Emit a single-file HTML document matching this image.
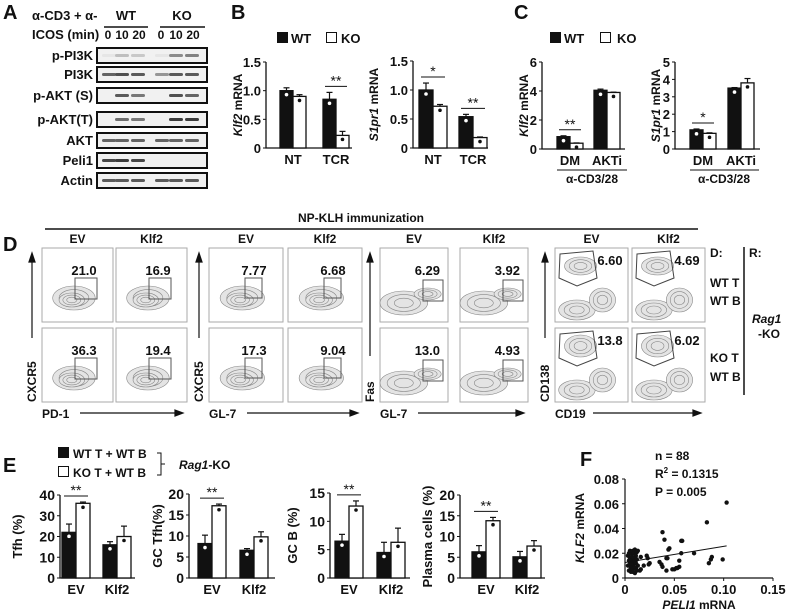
<!DOCTYPE html>
<html><head><meta charset="utf-8"><style>
html,body{margin:0;padding:0;background:#fff;}
svg{display:block;font-family:"Liberation Sans",sans-serif;font-weight:bold;}
text{fill:#111;}
</style></head><body>
<svg id="fig" width="786" height="611" viewBox="0 0 786 611">
<text x="3" y="19" font-size="20">A</text>
<text x="231" y="19" font-size="20">B</text>
<text x="514" y="19" font-size="20">C</text>
<text x="3" y="251" font-size="20">D</text>
<text x="3" y="472" font-size="20">E</text>
<text x="580" y="466" font-size="20">F</text>

<g font-size="13">
<text x="32" y="20">α-CD3 + α-</text>
<text x="32" y="39">ICOS (min)</text>
<text x="126" y="20" text-anchor="middle">WT</text>
<text x="182" y="20" text-anchor="middle">KO</text>
<line x1="104" y1="27" x2="148" y2="27" stroke="#111" stroke-width="1.5"/>
<line x1="160" y1="27" x2="205" y2="27" stroke="#111" stroke-width="1.5"/>
<g font-size="12">
<text x="108" y="39" text-anchor="middle">0</text>
<text x="122" y="39" text-anchor="middle">10</text>
<text x="139" y="39" text-anchor="middle">20</text>
<text x="161" y="39" text-anchor="middle">0</text>
<text x="176" y="39" text-anchor="middle">10</text>
<text x="193" y="39" text-anchor="middle">20</text>
</g>
</g>
<g id="blots"></g>

<rect x="277" y="32" width="11" height="11" fill="#111"/>
<text x="291" y="43" font-size="13">WT</text>
<rect x="326.5" y="32.5" width="10" height="10" fill="#fff" stroke="#111"/>
<text x="341" y="43" font-size="13">KO</text>
<rect x="550" y="32" width="11" height="11" fill="#111"/>
<text x="564" y="43" font-size="13">WT</text>
<rect x="600.5" y="32.5" width="10" height="10" fill="#fff" stroke="#111"/>
<text x="617" y="43" font-size="13">KO</text>
<g font-size="12">
<line x1="557" y1="170" x2="627" y2="170" stroke="#111"/>
<text x="592" y="183" text-anchor="middle">α-CD3/28</text>
<line x1="690" y1="170" x2="759" y2="170" stroke="#111"/>
<text x="724" y="183" text-anchor="middle">α-CD3/28</text>
</g>

<text x="361" y="222" font-size="12" text-anchor="middle">NP-KLH immunization</text>
<line x1="45" y1="229" x2="698" y2="229" stroke="#111" stroke-width="1.5"/>
<g id="flow"></g>
<g font-size="12">
<text x="710" y="257">D:</text>
<text x="749" y="257">R:</text>
<line x1="744" y1="247" x2="744" y2="395" stroke="#111" stroke-width="1.5"/>
<text x="710" y="287">WT T</text>
<text x="710" y="305">WT B</text>
<text x="752" y="323" font-style="italic">Rag1</text>
<text x="758" y="338">-KO</text>
<text x="710" y="362">KO T</text>
<text x="710" y="381">WT B</text>
</g>

<g font-size="12">
<rect x="58" y="447" width="11" height="11" fill="#111"/>
<text x="73" y="458">WT T + WT B</text>
<rect x="58.5" y="466.5" width="10" height="10" fill="#fff" stroke="#111"/>
<text x="73" y="477">KO T + WT B</text>
<path d="M157,453 h4 v22 h-4 M161,464 h4" fill="none" stroke="#111"/>
<text x="179" y="469"><tspan font-style="italic">Rag1</tspan>-KO</text>
</g>

<g font-size="12">
<text x="655" y="460">n = 88</text>
<text x="655" y="478">R<tspan font-size="8" dy="-5">2</tspan><tspan dy="5"> = 0.1315</tspan></text>
<text x="655" y="496">P = 0.005</text>
</g>
<g id="charts"></g>
</svg>
<script>
const NS='http://www.w3.org/2000/svg';
function mk(tag,attrs,parent){const e=document.createElementNS(NS,tag);for(const k in attrs)e.setAttribute(k,attrs[k]);parent.appendChild(e);return e;}

const blotNames=['p-PI3K','PI3K','p-AKT (S)','p-AKT(T)','AKT','Peli1','Actin'];
const blotIntensity=[
 [0.05,0.25,0.2,0.05,0.5,0.55],
 [0.7,0.8,0.75,0.45,0.75,0.75],
 [0,0.75,0.6,0,0.8,0.7],
 [0,0.65,0.6,0,0.9,0.9],
 [0.7,0.7,0.7,0.7,0.7,0.7],
 [0.85,0.9,0.85,0,0,0],
 [0.75,0.75,0.75,0.75,0.75,0.75]];
const blotRowTop=[48,67,88,112,133,153,173];
const laneX=[109,122,138,162,176,192];
const blots=document.getElementById('blots');
blotNames.forEach((n,i)=>{
 const y=blotRowTop[i];
 const r=mk('rect',{x:97,y:y,width:110,height:15,fill:'#f1f1f1',stroke:'#111','stroke-width':2},blots);
 
 
 const t=mk('text',{x:93,y:y+12,'font-size':13,'text-anchor':'end'},blots);t.textContent=n;
 
 
 blotIntensity[i].forEach((v,j)=>{
  if(v<=0)return;
  const g=Math.round(240-200*v);
  const b=mk('rect',{x:laneX[j]-7,y:y+6,width:14,height:3,rx:1.5,fill:`rgb(${g},${g},${g})`},blots);
  
  
 });
});

const catB=['NT','TCR'];
const klf2WT=[1.0,0.85],klf2KO=[0.9,0.22],klf2WTerr=[0.05,0.12],klf2KOerr=[0.03,0.07];
const s1pr1WT=[1.0,0.54],s1pr1KO=[0.72,0.18],s1pr1WTerr=[0.12,0.04],s1pr1KOerr=[0.03,0.01];
const catC=['DM','AKTi'];
const cKlf2WT=[0.85,4.05],cKlf2KO=[0.4,3.9],cKlf2WTerr=[0.06,0.08],cKlf2KOerr=[0.02,0.02];
const cS1pr1WT=[1.1,3.5],cS1pr1KO=[0.9,3.8],cS1pr1WTerr=[0.05,0.03],cS1pr1KOerr=[0.03,0.25];
const catE=['EV','Klf2'];
const tfhWT=[22,16],tfhKO=[36,20],tfhWTerr=[4,1.5],tfhKOerr=[0.6,5];
const gcTfhWT=[8.2,6.6],gcTfhKO=[17.2,9.8],gcTfhWTerr=[2,0.4],gcTfhKOerr=[0.4,1.2];
const gcBWT=[6.5,4.5],gcBKO=[12.7,6.3],gcBWTerr=[1.2,1.8],gcBKOerr=[0.9,2.5];
const plasmaWT=[6.3,5.1],plasmaKO=[13.8,7.7],plasmaWTerr=[1.5,1.3],plasmaKOerr=[0.8,1.3];
const ticksB=['0','0.5','1.0','1.5'],ticksC1=['0','2','4','6'],ticksC2=['0','1','2','3','4','5'];
const ticksTfh=['0','10','20','30','40'],ticksGcTfh=['0','5','10','15','20'],ticksGcB=['0','5','10','15'];

const charts=document.getElementById('charts');
function barChart(c){
 const g=mk('g',{},charts);
 
 
 const max=parseFloat(c.ticks[c.ticks.length-1]);
 const Y=v=>c.yBot-(v/max)*(c.yBot-c.yTop);
 const ax=mk('path',{d:`M${c.x0},${c.yTop} V${c.yBot} H${c.xEnd}`,fill:'none',stroke:'#111','stroke-width':1.3},g);
 
 
 c.ticks.forEach(t=>{
  const y=Y(parseFloat(t));
  const tk=mk('line',{x1:c.x0-3,x2:c.x0,y1:y,y2:y,stroke:'#111'},g);
  
  
  const tl=mk('text',{x:c.x0-5,y:y+5,'font-size':c.fs||13,'text-anchor':'end'},g);tl.textContent=t;
  
  
 });
 const yt=mk('text',{transform:`translate(${c.titleX},${(c.yTop+c.yBot)/2}) rotate(-90)`,'font-size':c.tfs||12,'text-anchor':'middle'},g);
 yt.innerHTML=c.title;
 
 
 c.cats.forEach((cat,i)=>{
  const bx=c.x0+c.pad+i*c.gap;
  [[c.wt,c.wtErr,'#111'],[c.ko,c.koErr,'#fff']].forEach((s,k)=>{
   const v=s[0][i],e=s[1][i],x=bx+k*c.w;
   const el=mk('line',{x1:x+c.w/2,x2:x+c.w/2,y1:Y(v),y2:Y(v+e),stroke:'#111','stroke-width':1.2},g);
   
   
   const ec=mk('line',{x1:x+c.w/2-3,x2:x+c.w/2+3,y1:Y(v+e),y2:Y(v+e),stroke:'#111','stroke-width':1.2},g);
   
   
   const r=mk('rect',{x:x,y:Y(v),width:c.w,height:c.yBot-Y(v),fill:s[2],stroke:'#111','stroke-width':1.3},g);
   
   
   const d=mk('circle',{cx:x+c.w/2,cy:Y(v)+4,r:1.8,fill:k?'#111':'#fff'},g);
   
   
  });
  const cl=mk('text',{x:bx+c.w,y:c.yBot+16,'font-size':13,'text-anchor':'middle'},g);cl.textContent=cat;
  
  
 });
 (c.sig||[]).forEach(sg=>{
  const bx=c.x0+c.pad+sg.i*c.gap;
  const top=Math.max(c.wt[sg.i]+c.wtErr[sg.i],c.ko[sg.i]+c.koErr[sg.i]);
  const y=Y(top)-6;
  const sl=mk('line',{x1:bx+2,x2:bx+2*c.w-2,y1:y,y2:y,stroke:'#111'},g);
  
  
  const st=mk('text',{x:bx+c.w,y:y-1,'font-size':14,'text-anchor':'middle','font-weight':'normal'},g);st.textContent=sg.t;
  
  
 });
}
barChart({name:'chart-b-klf2',x0:266,xEnd:352,yTop:62,yBot:148,pad:14,gap:43,w:13,cats:catB,wt:klf2WT,ko:klf2KO,wtErr:klf2WTerr,koErr:klf2KOerr,ticks:ticksB,title:'<tspan font-style="italic">Klf2</tspan> mRNA',titleX:242,sig:[{i:1,t:'**'}]});
barChart({name:'chart-b-s1pr1',x0:413,xEnd:488,yTop:61,yBot:148,pad:6,gap:40,w:14,cats:catB,wt:s1pr1WT,ko:s1pr1KO,wtErr:s1pr1WTerr,koErr:s1pr1KOerr,ticks:ticksB,title:'<tspan font-style="italic">S1pr1</tspan> mRNA',titleX:378,sig:[{i:0,t:'*'},{i:1,t:'**'}]});
barChart({name:'chart-c-klf2',x0:542,xEnd:625,yTop:62,yBot:149,pad:15,gap:37,w:13,cats:catC,wt:cKlf2WT,ko:cKlf2KO,wtErr:cKlf2WTerr,koErr:cKlf2KOerr,ticks:ticksC1,title:'<tspan font-style="italic">Klf2</tspan> mRNA',titleX:528,sig:[{i:0,t:'**'}]});
barChart({name:'chart-c-s1pr1',x0:675,xEnd:760,yTop:62,yBot:149,pad:15,gap:38,w:13,cats:catC,wt:cS1pr1WT,ko:cS1pr1KO,wtErr:cS1pr1WTerr,koErr:cS1pr1KOerr,ticks:ticksC2,title:'<tspan font-style="italic">S1pr1</tspan> mRNA',titleX:660,sig:[{i:0,t:'*'}]});
barChart({name:'chart-e-tfh',x0:60,xEnd:135,yTop:495,yBot:578,pad:2,gap:41,w:14,cats:catE,wt:tfhWT,ko:tfhKO,wtErr:tfhWTerr,koErr:tfhKOerr,ticks:ticksTfh,title:'Tfh (%)',titleX:22,fs:14,tfs:13,sig:[{i:0,t:'**'}]});
barChart({name:'chart-e-gc-tfh',x0:189,xEnd:275,yTop:494,yBot:578,pad:9,gap:42,w:14,cats:catE,wt:gcTfhWT,ko:gcTfhKO,wtErr:gcTfhWTerr,koErr:gcTfhKOerr,ticks:ticksGcTfh,title:'GC Tfh(%)',titleX:162,fs:14,tfs:13,sig:[{i:0,t:'**'}]});
barChart({name:'chart-e-gc-b',x0:330,xEnd:410,yTop:493,yBot:578,pad:5,gap:42,w:14,cats:catE,wt:gcBWT,ko:gcBKO,wtErr:gcBWTerr,koErr:gcBKOerr,ticks:ticksGcB,title:'GC B (%)',titleX:297,fs:14,tfs:13,sig:[{i:0,t:'**'}]});
barChart({name:'chart-e-plasma',x0:460,xEnd:545,yTop:495,yBot:578,pad:12,gap:41,w:14,cats:catE,wt:plasmaWT,ko:plasmaKO,wtErr:plasmaWTerr,koErr:plasmaKOerr,ticks:ticksGcTfh,title:'Plasma cells (%)',titleX:432,fs:14,tfs:13,sig:[{i:0,t:'**'}]});

const flowValues=[['21.0','16.9','36.3','19.4'],['7.77','6.68','17.3','9.04'],['6.29','3.92','13.0','4.93'],['6.60','4.69','13.8','6.02']];
const flowXLabel=['PD-1','GL-7','GL-7','CD19'];
const flowYLabel=['CXCR5','CXCR5','Fas','CD138'];
const groupX=[[42,116],[209,288],[380,460],[555,632]];
const groupW=[71,74,68,73];
const rowY=[248,328];
const flow=document.getElementById('flow');
groupX.forEach((gx,gi)=>{
 const w=groupW[gi];
 gx.forEach((x,ci)=>{
  const h=mk('text',{x:x+w/2,y:243,'font-size':12,'text-anchor':'middle'},flow);h.textContent=ci?'Klf2':'EV';
  
  
  rowY.forEach((y,ri)=>{
   const bx=mk('rect',{x:x,y:y,width:w,height:74,fill:'#fff',stroke:'#aaa'},flow);
   
   
   const blob=[];
   if(gi<2){blob.push([x+w*0.45,y+50,w*0.3,12],[x+w*0.42,y+52,w*0.18,7]);}
   else if(gi==2){blob.push([x+w*0.35,y+55,w*0.35,12],[x+w*0.7,y+46,w*0.2,6]);}
   else{blob.push([x+w*0.3,y+62,w*0.25,10],[x+w*0.65,y+52,w*0.18,12],[x+w*0.35,y+18,w*0.22,ri?11:9]);}
   blob.forEach(b=>{
    for(let k=0;k<3;k++){
     const e=mk('ellipse',{cx:b[0],cy:b[1],rx:b[2]*(1-k*0.3),ry:b[3]*(1-k*0.3),fill:k==0?'#e4e4e4':'none',stroke:'#888','stroke-width':0.6},flow);
     
     
    }
   });
   let gate;
   if(gi==0)gate=mk('rect',{x:x+33,y:y+30,width:22,height:21,fill:'none',stroke:'#555'},flow);
   else if(gi==1)gate=mk('rect',{x:x+36,y:y+30,width:17,height:20,fill:'none',stroke:'#555'},flow);
   else if(gi==2)gate=mk('rect',{x:x+43,y:y+32,width:20,height:21,fill:'none',stroke:'#555'},flow);
   else gate=mk('path',{d:`M${x+5},${y+6} L${x+38},${y+3} L${x+42},${y+30} L${x+22},${y+38} L${x+4},${y+30} Z`,fill:'none',stroke:'#444'},flow);
   
   
   const nx=gi==0?x+42:gi==1?x+45:gi==2?x+60:x+55;
   const ny=gi==3?y+17:y+27;
   const nt=mk('text',{x:nx,y:ny,'font-size':13,'text-anchor':gi==2?'end':'middle'},flow);nt.textContent=flowValues[gi][ri*2+ci];
   
   
  });
 });
 const ax=gx[0]-10;
 const va=mk('path',{d:`M${ax},${gi==2?356:338} V256 M${ax-3},262 L${ax},253 L${ax+3},262 Z`,stroke:'#111',fill:'#111','stroke-width':1.2},flow);
 
 
 const ha=mk('path',{d:`M${gx[0]+38},413 H${gx[1]+w-8} M${gx[1]+w-12},410 L${gx[1]+w-4},413 L${gx[1]+w-12},416 Z`,stroke:'#111',fill:'#111','stroke-width':1.2},flow);
 
 
 const xl=mk('text',{x:gx[0],y:418,'font-size':12},flow);xl.textContent=flowXLabel[gi];
 
 
 const yl=mk('text',{transform:`translate(${ax+4},402) rotate(-90)`,'font-size':12},flow);yl.textContent=flowYLabel[gi];
 
 
});

const peli1=[0.103,0.083,0.038,0.040,0.057,0.058,0.045,0.044,0.070,0.057,0.088,0.087,0.099,0.085,0.042,0.043,0.055,0.022,0.023,0.016,0.025,0.024,0.035,0.037,0.038,0.042,0.050,0.052,0.053,0.055,0.048,0.019,0.016,0.015,
0.003,0.004,0.005,0.006,0.007,0.008,0.009,0.010,0.011,0.012,0.013,0.004,0.005,0.006,0.007,0.008,0.009,0.010,0.011,0.012,0.003,0.005,0.007,0.009,0.011,0.013,0.004,0.006,0.008,0.010,0.012,0.005,0.007,0.009,0.006,0.008];
const klf2=[0.061,0.045,0.037,0.031,0.030,0.030,0.024,0.023,0.020,0.020,0.017,0.015,0.015,0.012,0.016,0.016,0.014,0.018,0.016,0.017,0.012,0.011,0.013,0.011,0.009,0.006,0.007,0.008,0.008,0.009,0.007,0.010,0.007,0.006,
0.018,0.020,0.022,0.021,0.019,0.022,0.020,0.023,0.018,0.021,0.022,0.014,0.016,0.015,0.017,0.013,0.016,0.014,0.012,0.015,0.010,0.011,0.009,0.012,0.008,0.010,0.006,0.005,0.007,0.004,0.006,0.013,0.011,0.009,0.008,0.005];
const fitX=[0,0.103],fitY=[0.0125,0.026];
const fxTicks=['0','0.05','0.10','0.15'],fyTicks=['0','0.02','0.04','0.06','0.08'];
(function(){
 const g=mk('g',{},charts);
 
 
 const X=v=>625+v/0.15*148, Y=v=>578-v/0.08*99;
 const ax=mk('path',{d:`M625,479 V578 H773`,fill:'none',stroke:'#111','stroke-width':1.2},g);
 
 
 fyTicks.forEach(t=>{const y=Y(parseFloat(t));
  const tl=mk('text',{x:619,y:y+5,'font-size':13,'text-anchor':'end'},g);tl.textContent=t;
  
  
  const tk=mk('line',{x1:622,x2:625,y1:y,y2:y,stroke:'#111'},g);
  
  
 });
 fxTicks.forEach(t=>{const x=X(parseFloat(t));
  const tl=mk('text',{x:x,y:594,'font-size':13,'text-anchor':'middle'},g);tl.textContent=t;
  
  
  const tk=mk('line',{x1:x,x2:x,y1:578,y2:581,stroke:'#111'},g);
  
  
 });
 peli1.forEach((v,i)=>{
  const c=mk('circle',{cx:X(v),cy:Y(klf2[i]),r:2.2,fill:'#111'},g);
  
  
 });
 const fl=mk('line',{x1:X(fitX[0]),y1:Y(fitY[0]),x2:X(fitX[1]),y2:Y(fitY[1]),stroke:'#111','stroke-width':1},g);
 
 
 const xt=mk('text',{x:699,y:609,'font-size':12,'text-anchor':'middle'},g);
 xt.innerHTML='<tspan font-style="italic">PELI1</tspan> mRNA';
 
 
 const yt=mk('text',{transform:'translate(584,528) rotate(-90)','font-size':12,'text-anchor':'middle'},g);
 yt.innerHTML='<tspan font-style="italic">KLF2</tspan> mRNA';
 
 
})();
</script>
</body></html>
